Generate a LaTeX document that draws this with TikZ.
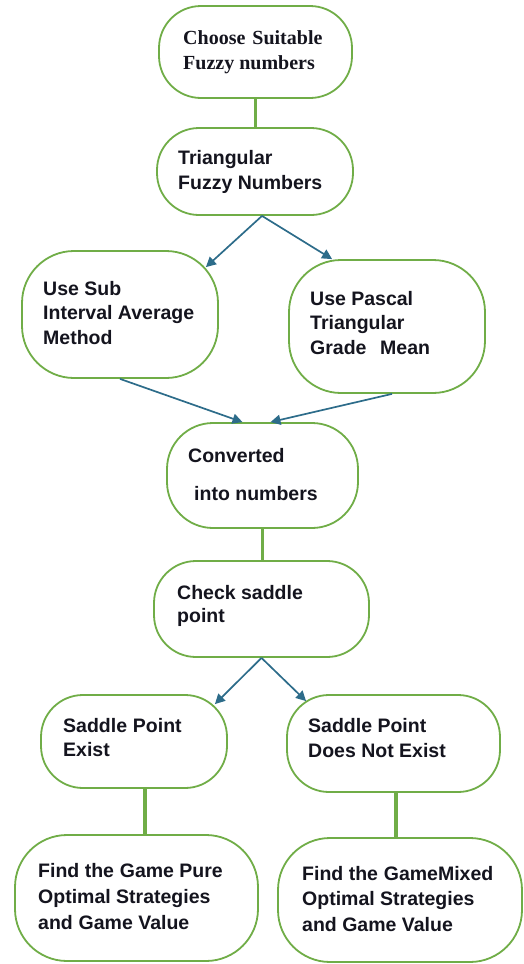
\documentclass[tikz,border=0pt]{standalone}
\usepackage{fontspec}
\setmainfont{Liberation Sans}
\newfontfamily\serifbold{Liberation Serif}
\usetikzlibrary{arrows.meta,calc}
\definecolor{boxgreen}{RGB}{112,173,71}
\definecolor{arrowblue}{RGB}{45,108,138}
\definecolor{txtcol}{RGB}{20,20,30}
\begin{document}
\begin{tikzpicture}[x=1pt,y=-1pt,
  box/.style={draw=boxgreen, line width=1.8pt, rounded corners=42pt, inner sep=0pt, fill=white},
  txt/.style={anchor=base west, inner sep=0pt, align=left, text=txtcol,
    font=\fontsize{19.5}{25}\selectfont\bfseries},
  link/.style={draw=boxgreen, line width=3.2pt},
  arr/.style={draw=arrowblue, line width=1.7pt, -{Triangle[length=10pt,width=10pt]}}]
\useasboundingbox (0,0) rectangle (523,964);

% boxes (center, width, height)
\node[box, minimum width=193pt, minimum height=92pt] (b1) at (255.5,52) {};
\node[box, minimum width=196pt, minimum height=87pt] (b2) at (255,171.5) {};
\node[box, minimum width=196pt, minimum height=127pt, rounded corners=52pt] (b3) at (120,314.5) {};
\node[box, minimum width=196pt, minimum height=133pt, rounded corners=52pt] (b4) at (387,326.5) {};
\node[box, minimum width=191pt, minimum height=105pt, rounded corners=46pt] (b5) at (262.5,475.5) {};
\node[box, minimum width=215pt, minimum height=96pt] (b6) at (261.5,609) {};
\node[box, minimum width=186pt, minimum height=93pt] (b7) at (134,741.5) {};
\node[box, minimum width=213pt, minimum height=97pt] (b8) at (393.5,743.5) {};
\node[box, minimum width=243pt, minimum height=126pt, rounded corners=52pt] (b9) at (136.5,898) {};
\node[box, minimum width=244pt, minimum height=124pt, rounded corners=52pt] (b10) at (400,900) {};

% texts (anchored at the baseline of the last line)
\node[txt, font=\fontsize{20}{25}\serifbold\bfseries] (t1) at (183,69) {Choose\hspace{0.35em}Suitable\\Fuzzy numbers};
\node[txt] (t2) at (178,189) {Triangular\\Fuzzy Numbers};
\node[txt, font=\fontsize{19.5}{24.5}\selectfont\bfseries] (t3) at (43,344) {Use Sub\\Interval Average\\Method};
\node[txt, font=\fontsize{19.5}{24.5}\selectfont\bfseries] (t4) at (310,354) {Use Pascal\\Triangular\\Grade\hspace{0.7em}Mean};
\node[txt] (t5a) at (188,462) {Converted};
\node[txt] (t5b) at (194,500) {into numbers};
\node[txt, font=\fontsize{19.5}{23}\selectfont\bfseries] (t6) at (177,622) {Check saddle\\point};
\node[txt, font=\fontsize{19.5}{24}\selectfont\bfseries] (t7) at (63,756) {Saddle\hspace{0.3em}Point\\Exist};
\node[txt] (t8) at (308,757) {Saddle Point\\Does Not Exist};
\node[txt, font=\fontsize{19.5}{26}\selectfont\bfseries] (t9) at (38,929) {Find the\hspace{0.3em}Game Pure\\Optimal Strategies\\and\hspace{0.3em}Game Value};
\node[txt, font=\fontsize{19.5}{25.5}\selectfont\bfseries] (t10) at (302,931) {Find the\hspace{0.3em}GameMixed\\Optimal Strategies\\and Game Value};

% green connectors
\coordinate (c7) at ($(b7.south)+(11,0)$);
\coordinate (c8) at ($(b8.south)+(2.5,0)$);
\draw[link] (b1.south) -- (b1.south |- b2.north);
\draw[link] (b5.south) -- (b5.south |- b6.north);
\draw[link] (c7) -- (c7 |- b9.north);
\draw[link] (c8) -- (c8 |- b10.north);

% arrows
\draw[arr] ($(b2.south)+(7,0)$) -- ($(b3.north east)+(-13,17)$);
\draw[arr] ($(b2.south)+(7,0)$) -- ($(b4.north west)+(44,0)$);
\draw[arr] (b3.south) -- ($(b5.north)+(-20,0)$);
\draw[arr] ($(b4.south)+(5,0)$) -- ($(b5.north)+(8,0)$);
\draw[arr] (b6.south) -- ($(b7.north east)+(-13,10)$);
\draw[arr] (b6.south) -- ($(b8.north west)+(20,7)$);
\end{tikzpicture}
\end{document}
